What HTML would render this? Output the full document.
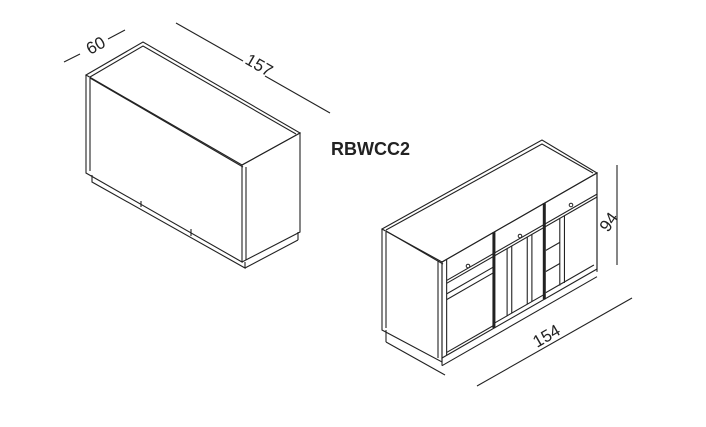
<!DOCTYPE html>
<html><head><meta charset="utf-8"><style>
html,body{margin:0;padding:0;background:#fff;width:706px;height:427px;overflow:hidden}
svg{display:block}
text{font-family:"Liberation Sans",sans-serif;fill:#222}
.l{fill:none;stroke:#222;stroke-width:1.1}
.n{vector-effect:non-scaling-stroke}
</style></head><body>
<svg width="706" height="427" viewBox="0 0 706 427" xmlns="http://www.w3.org/2000/svg">
<g class="l">
<line x1="64" y1="62" x2="80" y2="54"/>
<line x1="108" y1="39" x2="125" y2="30"/>
<line x1="176" y1="23" x2="243" y2="61"/>
<line x1="265" y1="76" x2="330" y2="113"/>
<line x1="617" y1="165" x2="617" y2="265"/>
<line x1="477" y1="386" x2="632" y2="298"/>
</g>
<text x="0" y="0" font-size="17" transform="translate(90,55) rotate(-28)">60</text>
<text x="0" y="0" font-size="17" transform="translate(244,63) rotate(30)">157</text>
<text x="0" y="0" font-size="17" transform="translate(608,233) rotate(-55)">94</text>
<text x="0" y="0" font-size="17" transform="translate(537,348) rotate(-30)">154</text>
<text x="331" y="155" font-size="18" font-weight="bold">RBWCC2</text>

<g class="l">
<polygon points="86,75 143,42 300,133 242,165"/>
<polyline points="90,77 143,46 296,134"/>
<line x1="90" y1="78" x2="243" y2="167"/>
<polyline points="86,75 86,173 242,262 242,165"/>
<line x1="90" y1="78" x2="90" y2="171"/>
<line x1="246" y1="167" x2="246" y2="260"/>
<polyline points="242,165 300,133 300,232 242,262"/>
<polyline points="92,175 92,182 245,268 245,262"/>
<line x1="245" y1="268" x2="298" y2="240"/><line x1="298" y1="232" x2="298" y2="240"/>
<line x1="141" y1="201" x2="141" y2="207"/>
<line x1="191" y1="229" x2="191" y2="236"/>
</g>

<g class="l">
<polygon points="382,229 542,140 597,173 442,262"/>
<polyline points="386,230 542,144 593,173"/>
<line x1="386" y1="231" x2="443" y2="264"/>
<polyline points="382,229 382,330 442,362 442,262"/>
<line x1="386" y1="232" x2="386" y2="328"/>
<line x1="438" y1="261" x2="438" y2="358"/>
<line x1="386" y1="330" x2="386" y2="342"/><line x1="386" y1="342" x2="445" y2="375"/>
</g>
<g transform="matrix(155,-89,0,96,442,262)" class="l">
<rect x="0" y="0" width="1" height="1" class="n"/>
<line x1="0.03" y1="0" x2="0.03" y2="1" class="n"/>
<line x1="0" y1="1.08" x2="1" y2="1.08" class="n"/>
<line x1="0" y1="1" x2="0" y2="1.08" class="n"/>
<line x1="1" y1="0" x2="1" y2="1.03" class="n"/>
<line x1="0.335" y1="0" x2="0.335" y2="1" class="n" style="stroke-width:3"/>
<line x1="0.66" y1="0" x2="0.66" y2="1" class="n" style="stroke-width:3"/>
<line x1="0.03" y1="0.22" x2="1" y2="0.22" class="n"/>
<line x1="0.03" y1="0.25" x2="1" y2="0.25" class="n"/>
<line x1="0.03" y1="0.36" x2="0.33" y2="0.36" class="n"/>
<line x1="0.03" y1="0.42" x2="0.33" y2="0.42" class="n"/>
<line x1="0.03" y1="0.97" x2="0.33" y2="0.97" class="n"/>
<line x1="0.42" y1="0.25" x2="0.42" y2="0.95" class="n"/>
<line x1="0.45" y1="0.25" x2="0.45" y2="0.95" class="n"/>
<line x1="0.55" y1="0.25" x2="0.55" y2="0.95" class="n"/>
<line x1="0.58" y1="0.25" x2="0.58" y2="0.95" class="n"/>
<line x1="0.34" y1="0.95" x2="0.66" y2="0.95" class="n"/>
<line x1="0.76" y1="0.25" x2="0.76" y2="0.95" class="n"/>
<line x1="0.79" y1="0.25" x2="0.79" y2="0.95" class="n"/>
<line x1="0.67" y1="0.5" x2="0.76" y2="0.5" class="n"/>
<line x1="0.67" y1="0.72" x2="0.76" y2="0.72" class="n"/>
<line x1="0.67" y1="0.94" x2="0.98" y2="0.94" class="n"/>
</g>
<g fill="#fff" stroke="#222" stroke-width="1">
<circle cx="468" cy="266" r="1.8"/><circle cx="520" cy="236" r="1.8"/><circle cx="571" cy="205" r="1.8"/>
</g>
</svg>
</body></html>
